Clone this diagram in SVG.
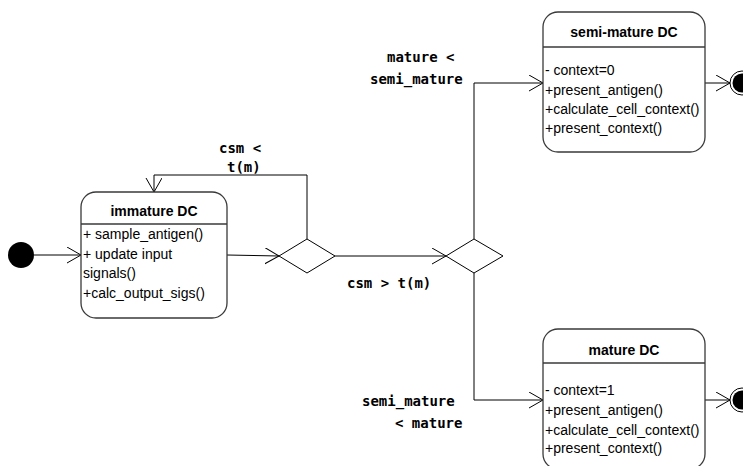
<svg xmlns="http://www.w3.org/2000/svg" width="743" height="466" viewBox="0 0 743 466">
<defs>
<marker id="arr" markerWidth="16" markerHeight="18" refX="14" refY="8" orient="auto" markerUnits="userSpaceOnUse">
<path d="M0,0 L14,8 L0,16" fill="none" stroke="#000" stroke-width="1"/>
</marker>
</defs>
<style>
.box{fill:#fff;stroke:#3a3a3a;stroke-width:1.3}
.div{stroke:#3a3a3a;stroke-width:1.3}
.t{font-family:"Liberation Sans",Arial,sans-serif;font-size:14px;fill:#000}
.h{font-family:"Liberation Sans",Arial,sans-serif;font-size:14px;font-weight:bold;fill:#000;text-anchor:middle}
.g{font-family:"DejaVu Sans Mono",monospace;font-size:14px;font-weight:bold;fill:#000}
.c{fill:none;stroke:#000;stroke-width:1}
.dia{fill:#fff;stroke:#000;stroke-width:1}
</style>
<rect width="743" height="466" fill="#fff"/>
<g id="connectors">
<path class="c" d="M34,255 L81,255" marker-end="url(#arr)"/>
<path class="c" d="M227,255 L279,256" marker-end="url(#arr)"/>
<path class="c" d="M307,239 L307,175 L154,175 L154,192" marker-end="url(#arr)"/>
<path class="c" d="M335,256 L446,256" marker-end="url(#arr)"/>
<path class="c" d="M474,239 L474,83 L543,83" marker-end="url(#arr)"/>
<path class="c" d="M474,273 L474,400 L543,400" marker-end="url(#arr)"/>
<path class="c" d="M705,83 L730,83" marker-end="url(#arr)" stroke="#444"/>
<path class="c" d="M705,400 L730,400" marker-end="url(#arr)" stroke="#444"/>
<text class="g" x="219" y="153">csm &lt;</text>
<text class="g" x="227" y="172">t(m)</text>
<text class="g" x="347" y="288">csm &gt; t(m)</text>
<text class="g" x="387" y="62">mature &lt;</text>
<text class="g" x="370" y="84">semi_mature</text>
<text class="g" x="362" y="406">semi_mature</text>
<text class="g" x="395" y="428">&lt; mature</text>
</g>
<g id="initial">
<circle cx="21" cy="255" r="13" fill="#000"/>
</g>
<g id="immature">
<rect class="box" x="81" y="192" width="146" height="126" rx="15"/>
<line class="div" x1="81" y1="224" x2="227" y2="224"/>
<text class="h" x="154" y="216">immature DC</text>
<text class="t" x="83" y="239">+ sample_antigen()</text>
<text class="t" x="83" y="259">+ update input</text>
<text class="t" x="83" y="278">signals()</text>
<text class="t" x="83" y="298">+calc_output_sigs()</text>
</g>
<g id="decision1">
<polygon class="dia" points="307,239 335,256 307,273 279,256"/>
</g>
<g id="decision2">
<polygon class="dia" points="474,239 503,256 474,273 446,256"/>
</g>
<g id="semimature">
<rect class="box" x="543" y="12" width="162" height="140" rx="15"/>
<line class="div" x1="543" y1="47" x2="705" y2="47"/>
<text class="h" x="624" y="37">semi-mature DC</text>
<text class="t" x="545" y="75">- context=0</text>
<text class="t" x="545" y="95">+present_antigen()</text>
<text class="t" x="545" y="114">+calculate_cell_context()</text>
<text class="t" x="545" y="133">+present_context()</text>
</g>
<g id="mature">
<rect class="box" x="543" y="329" width="162" height="140" rx="15"/>
<line class="div" x1="543" y1="363" x2="705" y2="363"/>
<text class="h" x="624" y="355">mature DC</text>
<text class="t" x="545" y="395">- context=1</text>
<text class="t" x="545" y="415">+present_antigen()</text>
<text class="t" x="545" y="435">+calculate_cell_context()</text>
<text class="t" x="545" y="453">+present_context()</text>
</g>
<g id="final1">
<circle cx="742" cy="83" r="12" fill="#fff" stroke="#000" stroke-width="1"/>
<circle cx="742" cy="83" r="9.5" fill="#000"/>
</g>
<g id="final2">
<circle cx="742" cy="400" r="12" fill="#fff" stroke="#000" stroke-width="1"/>
<circle cx="742" cy="400" r="9.5" fill="#000"/>
</g>
</svg>
